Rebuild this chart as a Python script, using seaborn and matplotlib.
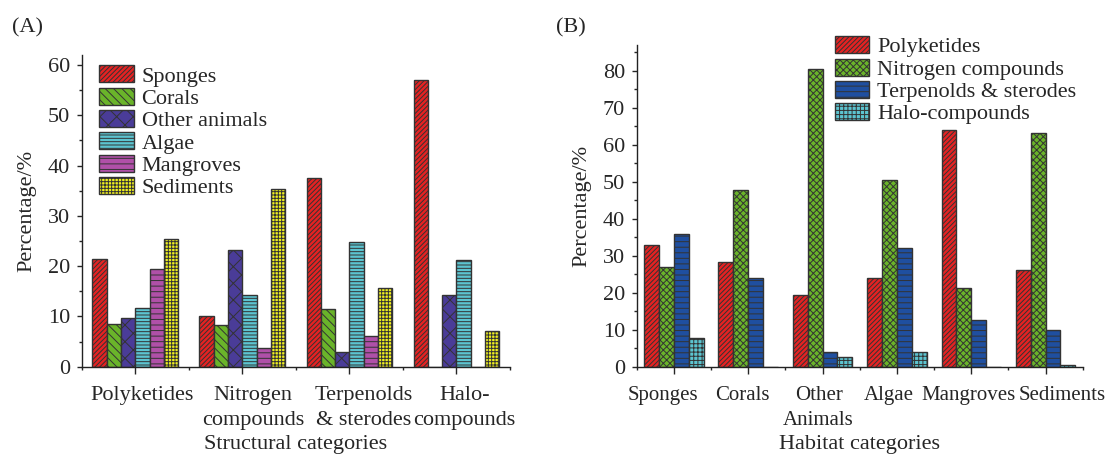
import numpy as np
import pandas as pd
import seaborn as sns
import matplotlib.pyplot as plt
from matplotlib.ticker import MultipleLocator
from matplotlib.transforms import ScaledTranslation

# (A) share of compounds per structural category, split by habitat
struct_cats = ["Polyketides", "Nitrogen\ncompounds", "Terpenolds\n& sterodes", "Halo-\ncompounds"]
habitats = ["Sponges", "Corals", "Other animals", "Algae", "Mangroves", "Sediments"]
sponges = [21.5, 10.1, 37.5, 57.1]
corals = [8.4, 8.2, 11.4, 0.0]
other_animals = [9.7, 23.3, 3.0, 14.2]
algae = [11.7, 14.2, 24.9, 21.3]
mangroves = [19.5, 3.7, 6.2, 0.0]
sediments = [25.4, 35.4, 15.6, 7.1]

# (B) share of compounds per habitat, split by structural category
habitat_cats = ["Sponges", "Corals", "Other\nAnimals", "Algae", "Mangroves", "Sediments"]
compounds = ["Polyketides", "Nitrogen compounds", "Terpenolds & sterodes", "Halo-compounds"]
polyketides = [33.0, 28.2, 19.5, 24.0, 64.0, 26.1]
nitrogen = [26.9, 47.8, 80.5, 50.6, 21.3, 63.1]
terpenolds = [36.0, 23.9, 3.9, 32.0, 12.7, 10.0]
halo = [7.9, 0.0, 2.5, 4.0, 0.0, 0.6]

colors_a = ["#e52222", "#6ab42a", "#4a3c98", "#5cc4d0", "#b050a8", "#f0f020"]
hatches_a = ["///////", "\\\\\\\\", "xx", "-----", "---", "+++++"]
colors_b = ["#e52222", "#6ab42a", "#1f4fa0", "#5cc4d0"]
hatches_b = ["///////", "xxxxx", "---", "++++"]

# horizontal nudges (pixels) of the category labels, as in the original figure
shift_a = [7, 11, 14, 8]
shift_b = [-11, -6, -4, -8, -3, 17]

rows = []
for h, vals in zip(habitats, [sponges, corals, other_animals, algae, mangroves, sediments]):
    for c, v in zip(struct_cats, vals):
        rows.append((c, h, v))
df_a = pd.DataFrame(rows, columns=["category", "group", "value"])

rows = []
for c, vals in zip(compounds, [polyketides, nitrogen, terpenolds, halo]):
    for h, v in zip(habitat_cats, vals):
        rows.append((h, c, v))
df_b = pd.DataFrame(rows, columns=["category", "group", "value"])

sns.set_style("ticks")
plt.rcParams['font.family'] = ['Liberation Serif', 'DejaVu Serif']
plt.rcParams['font.size'] = 16
plt.rcParams['hatch.linewidth'] = 0.7
plt.rcParams['hatch.color'] = '#222222'
plt.rcParams['axes.linewidth'] = 1.0
plt.rcParams['axes.edgecolor'] = '#222222'

fig = plt.figure(figsize=(11.06, 4.58), dpi=100)
ax_a = fig.add_axes([0.0739, 0.1993, 0.3871, 0.6807])
ax_b = fig.add_axes([0.5757, 0.1993, 0.4033, 0.7024])


def draw(ax, df, order, hue_order, colors, hatches, ymax, xlabel, shifts, xsize):
    sns.barplot(data=df, x="category", y="value", hue="group", order=order,
                hue_order=hue_order, palette=colors, saturation=1,
                edgecolor="#333333", linewidth=1.0, legend=False, ax=ax)
    for cont, hat in zip(ax.containers, hatches):
        for bar in cont:
            bar.set_hatch(hat)
    ax.set_xlim(-0.5, len(order) - 0.5)
    ax.set_ylim(0, ymax)
    ax.yaxis.set_major_locator(MultipleLocator(10))
    ax.yaxis.set_minor_locator(MultipleLocator(5))
    ax.set_xticks(np.arange(-0.5, len(order)), minor=True)
    ax.tick_params(axis="x", which="major", length=5, width=1, pad=9, labelsize=xsize)
    ax.tick_params(axis="x", which="minor", length=2.5, width=1)
    ax.tick_params(axis="y", which="major", length=3.5, width=1, pad=5, labelsize=16)
    ax.tick_params(axis="y", which="minor", length=2, width=1)
    ax.set_xlabel(xlabel, fontsize=16, labelpad=3)
    ax.set_ylabel("Percentage/%", fontsize=16, labelpad=8)
    sns.despine(ax=ax)
    for tick, dx in zip(ax.xaxis.get_major_ticks(), shifts):
        lbl = tick.label1
        lbl.set_linespacing(1.45)
        lbl.set_transform(lbl.get_transform() + ScaledTranslation(dx / 100, 0, fig.dpi_scale_trans))
    return ax.containers


cont_a = draw(ax_a, df_a, struct_cats, habitats, colors_a, hatches_a, 62,
              "Structural categories", shift_a, 16)
cont_b = draw(ax_b, df_b, habitat_cats, compounds, colors_b, hatches_b, 87,
              "Habitat categories", shift_b, 15)

for ax, conts, labels, anchor in [(ax_a, cont_a, habitats, (0.0898, 0.857)),
                                  (ax_b, cont_b, compounds, (0.755, 0.921))]:
    ax.legend(conts, labels, loc="upper left", bbox_to_anchor=anchor,
              bbox_transform=fig.transFigure, frameon=False, borderpad=0,
              borderaxespad=0, labelspacing=0.05, handlelength=1.55,
              handleheight=0.8, handletextpad=0.35, fontsize=16)

fig.text(0.011, 1 - 28 / 458, "(A)", fontsize=16, va="center")
fig.text(0.503, 1 - 28 / 458, "(B)", fontsize=16, va="center")

fig.savefig("out.png", dpi=100)
